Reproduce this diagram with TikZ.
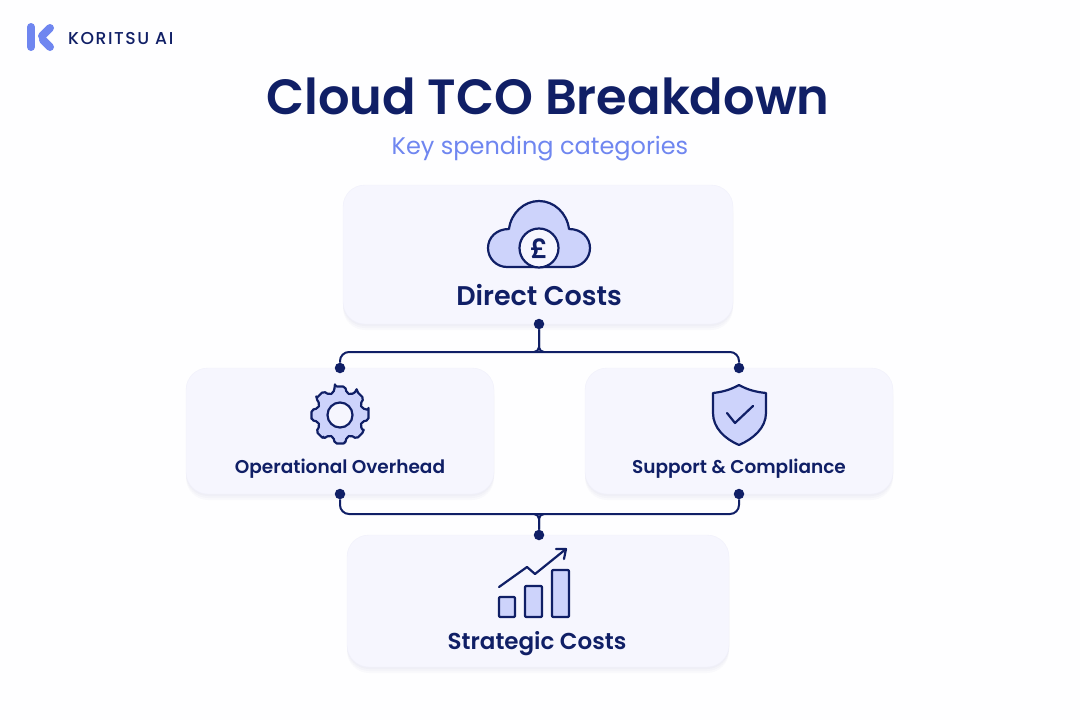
\documentclass[tikz,border=0pt]{standalone}
\usepackage{fontspec}
\usepackage{tikz}
\usetikzlibrary{shadows}
\setmainfont{Poppins}[BoldFont={Poppins SemiBold}]
\newfontfamily\logofont[LetterSpace=9]{Poppins Medium}
\definecolor{navy}{HTML}{101F66}
\definecolor{accent}{HTML}{6F86F0}
\definecolor{cardfill}{HTML}{F6F6FE}
\definecolor{cardedge}{HTML}{F0F0FB}
\definecolor{iconfill}{HTML}{CDD3FB}
\definecolor{pagefill}{HTML}{FEFEFF}
\tikzset{
    softshadow/.style = {general shadow = {shadow xshift = 0pt, shadow yshift = #1, opacity = 0.02, fill = navy}},
    card/.style = {draw = cardedge, fill = cardfill, rounded corners = 22pt, inner sep = 0pt,
        softshadow = -6pt, softshadow = -4pt, softshadow = -2pt},
    cardlabel/.style = {text = navy, inner sep = 0pt, font = \bfseries\fontsize{23}{23}\selectfont},
    smalllabel/.style = {cardlabel, font = \bfseries\fontsize{18.5}{19}\selectfont},
    joint/.style = {circle, fill = navy, inner sep = 0pt, minimum size = 10.5pt},
    link/.style = {draw = navy, line width = 2pt},
    icon/.style = {draw = navy, line width = 2.2pt, fill = iconfill, line join = round},
    stroke/.style = {draw = navy, line width = 2.2pt, line cap = round, line join = round}
}
\begin{document}
\begin{tikzpicture}[x = 1pt, y = -1pt]
    \useasboundingbox (0,0) rectangle (1080,720);
    \fill [pagefill] (0,0) rectangle (1080,720);

    \draw [accent, line width = 8pt, line cap = round] (31,27) -- (31,47);
    \draw [accent, line width = 8pt, line cap = round] (42,36) -- (50,28);
    \draw [accent, line width = 8pt, line cap = round] (43,40) -- (50,47);
    \node [anchor = west, inner sep = 0pt, text = navy] (brand) at (68,39)
        {\logofont\fontsize{17.2}{17}\selectfont KORITSU AI};

    \node [text = navy, inner sep = 0pt] (title) at (548,96)
        {\bfseries\fontsize{49.5}{50}\selectfont Cloud TCO Breakdown};
    \node [text = accent, inner sep = 0pt] (subtitle) at (540,149)
        {\fontsize{24}{25}\selectfont Key spending categories};

    \node [card, minimum width = 390pt, minimum height = 139pt] (direct) at (538,254.5) {};
    \node [card, minimum width = 308pt, minimum height = 126pt] (overhead) at (340,431) {};
    \node [card, minimum width = 308pt, minimum height = 126pt] (support) at (739,431) {};
    \node [card, minimum width = 382pt, minimum height = 132pt] (strategic) at (538,601) {};

    \node [cardlabel, font = \bfseries\fontsize{27}{27}\selectfont] (directlabel) at (539,295) {Direct Costs};
    \node [smalllabel] (overheadlabel) at (340,469) {Operational Overhead};
    \node [smalllabel] (supportlabel) at (739,469) {Support \& Compliance};
    \node [cardlabel] (strategiclabel) at (537,644) {Strategic Costs};

    \node [joint] (directdot) at (539,324) {};
    \node [joint] (overheadin) at (340,368) {};
    \node [joint] (supportin) at (739,368) {};
    \node [joint] (overheadout) at (340,494) {};
    \node [joint] (supportout) at (739,494) {};
    \node [joint] (strategicdot) at (539,535) {};
    \coordinate (topbus) at (539,352);
    \coordinate (lowbus) at (539,514);
    \coordinate (topstem) at (539,347);
    \coordinate (lowstem) at (539,519);

    \draw [link, rounded corners = 9pt] (overheadin) |- (topbus) -| (supportin);
    \draw [link] (directdot) -- (topstem) to [out = -90, in = 0] ++(-5,5);
    \draw [link] (directdot) -- (topstem) to [out = -90, in = 180] ++(5,5);
    \draw [link, rounded corners = 9pt] (overheadout) |- (lowbus) -| (supportout);
    \draw [link] (strategicdot) -- (lowstem) to [out = 90, in = 0] ++(-5,-5);
    \draw [link] (strategicdot) -- (lowstem) to [out = 90, in = 180] ++(5,-5);

    \draw [icon] (507,267) .. controls (496.5,267) and (488,258.5) .. (488,248)
        .. controls (488,237.5) and (496.5,229) .. (509,229)
        .. controls (511,213) and (524,201) .. (539,201)
        .. controls (554,201) and (567,213) .. (569,229)
        .. controls (581.5,229) and (590,237.5) .. (590,248)
        .. controls (590,258.5) and (581.5,267) .. (571,267) -- cycle;
    \draw [icon, fill = cardfill] (539,248) circle [radius = 19.5];
    \node [text = navy, inner sep = 0pt] (pound) at (539,249)
        {\bfseries\fontsize{27}{27}\selectfont £};

    \begin{scope}[shift = {(340,415)}]
        \draw [icon, rounded corners = 2pt] (-10:29)
            \foreach \a in {0,45,...,315} {
                -- (\a-10:29) -- (\a+10:29) -- (\a+17:23) -- (\a+28:23) -- (\a+35:29)
            } -- cycle;
        \draw [icon, fill = cardfill] (0,0) circle [radius = 12.5];
    \end{scope}

    \draw [icon] (739,385) .. controls (730,390) and (722,392) .. (713,393) -- (713,413)
        .. controls (713,428) and (725,439) .. (739,445)
        .. controls (753,439) and (766,428) .. (766,413) -- (766,393)
        .. controls (756,392) and (748,390) .. (739,385) -- cycle;
    \draw [stroke] (727,413) -- (735,423) -- (753,406);

    \draw [icon, rounded corners = 1pt] (499,597) rectangle (515,617);
    \draw [icon, rounded corners = 1pt] (525,586) rectangle (542,617);
    \draw [icon, rounded corners = 1pt] (552,570) rectangle (569,617);
    \draw [stroke] (499,587) -- (527,567) -- (535,574) -- (566,549);
    \draw [stroke] (556,549) -- (566,549) -- (564,559);
\end{tikzpicture}
\end{document}
